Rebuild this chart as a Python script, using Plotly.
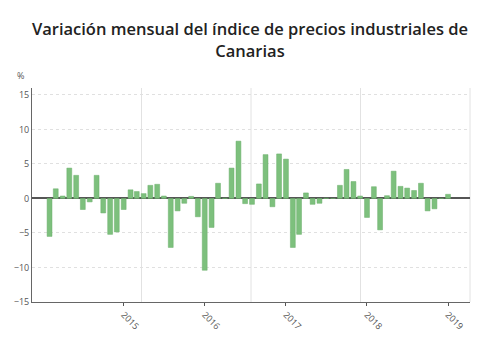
import plotly.graph_objects as go
import pandas as pd

months = pd.date_range("2014-02-01", "2019-01-01", freq="MS").strftime("%Y-%m-%d").tolist()
values = [
    -5.5, 1.4, 0.35, 4.4, 3.35, -1.6, -0.5, 3.35, -2.1, -5.2, -4.85, -1.6,
    1.25, 1.0, 0.7, 1.9, 2.05, 0.35, -7.1, -1.8, -0.7, 0.3, -2.65, -10.4,
    -4.2, 2.2, 0.05, 4.4, 8.3, -0.75, -0.85, 2.1, 6.35, -1.2, 6.45, 5.7,
    -7.1, -5.2, 0.8, -0.85, -0.7, 0.05, 0.0, 1.9, 4.2, 2.45, 0.35, -2.75,
    1.7, -4.55, 0.4, 3.95, 1.75, 1.5, 1.15, 2.2, -1.8, -1.5, 0.0, 0.6,
]
tick_vals = ["2015-01-01", "2016-01-01", "2017-01-01", "2018-01-01", "2019-01-01"]
tick_text = ["2015", "2016", "2017", "2018", "2019"]
y_ticks = [-15, -10, -5, 0, 5, 10, 15]

fig = go.Figure(go.Bar(
    x=months, y=values,
    marker=dict(color="#7dc07d", line=dict(color="#6aae6a", width=0.5)),
    width=[22 * 24 * 3600 * 1000] * len(months),
    hovertemplate="%{x|%b %Y}: %{y}%<extra></extra>",
))

shapes = []
for f in [0.25, 0.5, 0.75, 1.0]:
    shapes.append(dict(type="line", xref="paper", yref="paper", x0=f, x1=f, y0=0, y1=1,
                       line=dict(color="#e2e2e2", width=1), layer="below"))

fig.update_layout(
    width=500, height=337,
    margin=dict(l=32, r=30, t=88, b=35, autoexpand=False),
    paper_bgcolor="white", plot_bgcolor="white",
    title=dict(
        text="Variación mensual del índice de precios industriales de<br>Canarias",
        x=0.5, xanchor="center", yref="container", y=0.895, yanchor="middle",
        font=dict(family="Open Sans", size=16.5, color="#222", weight=600),
    ),
    font=dict(family="Open Sans", size=9, color="#555"),
    showlegend=False,
    shapes=shapes,
    xaxis=dict(
        type="date", range=["2013-11-14", "2019-04-10"], automargin=False,
        tickmode="array", tickvals=tick_vals, ticktext=tick_text,
        tickangle=45, ticks="outside", ticklen=3, tickcolor="#555",
        showgrid=False, showline=True, linecolor="#666", linewidth=1,
        tickfont=dict(size=9, color="#555"),
    ),
    yaxis=dict(
        range=[-15, 16], tickvals=y_ticks, automargin=False,
        showgrid=True, gridcolor="#e0e0e0", griddash="dot", gridwidth=1,
        zeroline=True, zerolinecolor="#555", zerolinewidth=1.5,
        showline=True, linecolor="#666", linewidth=1,
        tickfont=dict(size=9, color="#555"),
    ),
    annotations=[dict(text="%", xref="paper", yref="paper", x=-0.027, y=1.02,
                      xanchor="center", yanchor="bottom", showarrow=False,
                      font=dict(size=9, color="#555"))],
)

fig.write_html("out.html")
